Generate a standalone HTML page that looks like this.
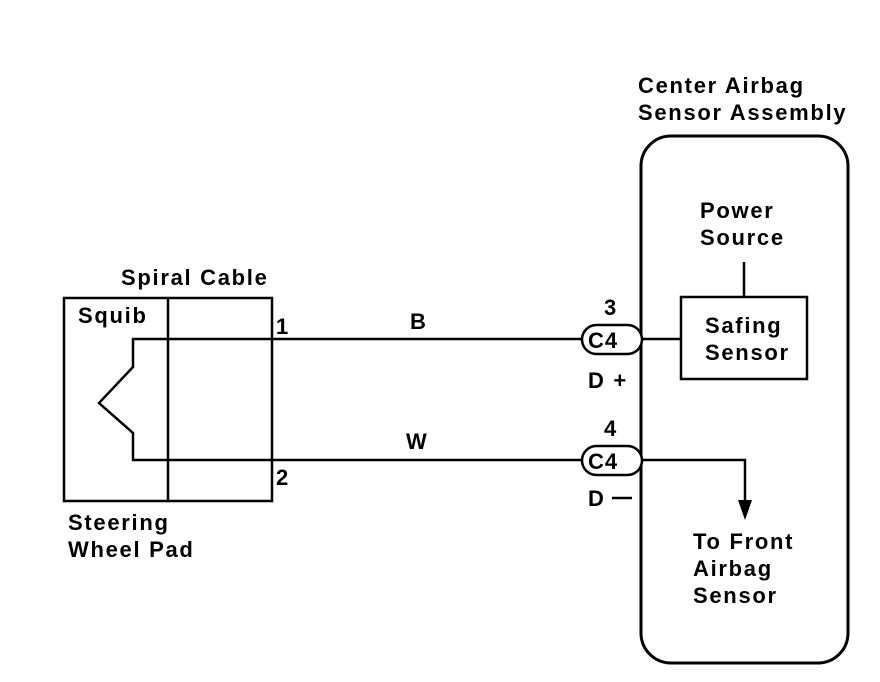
<!DOCTYPE html>
<html><head><meta charset="utf-8"><style>
html,body{margin:0;padding:0;background:#fff;}
svg{display:block;}
text{font-family:"Liberation Sans",Arial,sans-serif;font-weight:bold;font-size:22px;letter-spacing:1.7px;fill:#000;}
</style></head><body>
<svg width="880" height="682" viewBox="0 0 880 682" xmlns="http://www.w3.org/2000/svg">
<g fill="none" stroke="#000" stroke-width="2.5">
<rect x="64" y="298" width="208" height="203"/>
<line x1="168" y1="298" x2="168" y2="501"/>
<polyline points="582,339 133,339 133,367 99,403 133,433 133,460 582,460"/>
<rect x="641" y="136" width="207" height="527" rx="30" ry="30" stroke-width="3"/>
<rect x="681" y="297" width="126" height="82"/>
<line x1="642" y1="339" x2="681" y2="339"/>
<line x1="744" y1="262" x2="744" y2="297"/>
<polyline points="642,460 745,460 745,505"/>
<rect x="582" y="325" width="60" height="29" rx="14.5" ry="14.5" fill="#fff"/>
<rect x="582" y="446" width="60" height="29" rx="14.5" ry="14.5" fill="#fff"/>
<line x1="612" y1="498" x2="632" y2="498"/>
</g>
<polygon points="738,500 752,500 745,520" fill="#000"/>
<text x="121" y="285">Spiral Cable</text>
<text x="78" y="323">Squib</text>
<text x="276" y="334">1</text>
<text x="276" y="485">2</text>
<text x="410" y="329">B</text>
<text x="406" y="449">W</text>
<text x="68" y="530">Steering</text>
<text x="68" y="557">Wheel Pad</text>
<text x="638" y="93">Center Airbag</text>
<text x="638" y="120">Sensor Assembly</text>
<text x="700" y="218">Power</text>
<text x="700" y="245">Source</text>
<text x="705" y="333">Safing</text>
<text x="705" y="360">Sensor</text>
<text x="604" y="315">3</text>
<text x="588" y="348" style="letter-spacing:1px">C4</text>
<text x="588" y="388">D +</text>
<text x="604" y="436">4</text>
<text x="588" y="469" style="letter-spacing:1px">C4</text>
<text x="588" y="506">D</text>
<text x="693" y="549">To Front</text>
<text x="693" y="576">Airbag</text>
<text x="693" y="603">Sensor</text>
</svg>
</body></html>
